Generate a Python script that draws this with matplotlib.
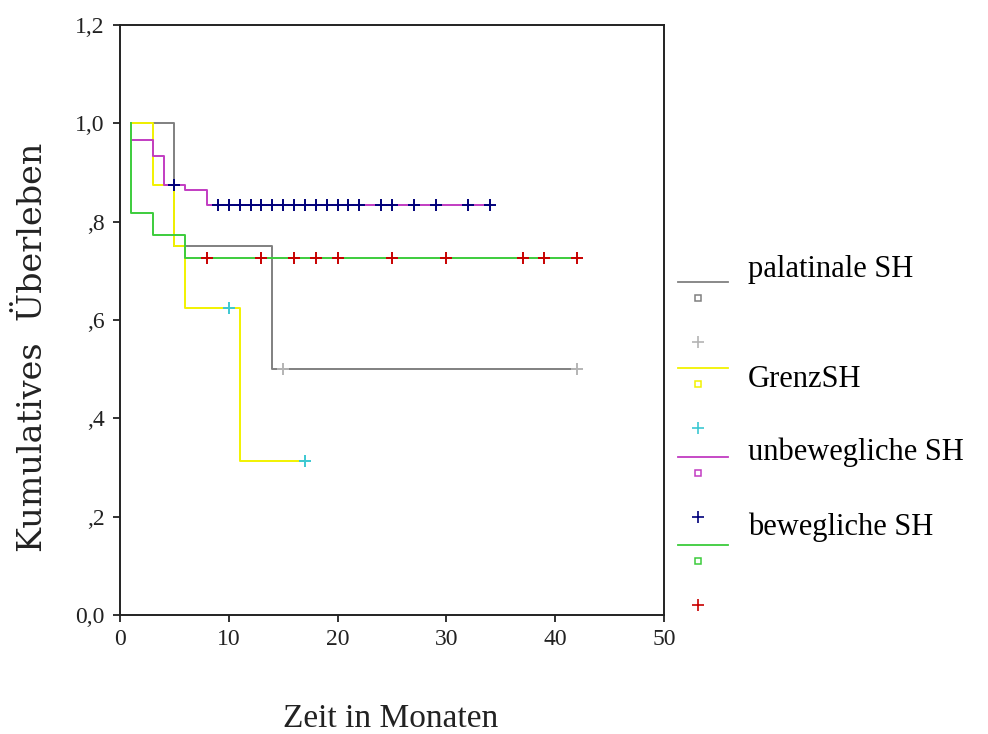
import numpy as np
import matplotlib
matplotlib.use("Agg")
import matplotlib.pyplot as plt

# groups and their Kaplan-Meier step curves (time in months, cumulative survival)
groups = ["palatinale SH", "GrenzSH", "unbewegliche SH", "bewegliche SH"]

pal_t = [1, 5, 14, 42]
pal_s = [1.0, 0.75, 0.5, 0.5]
pal_cens = [15, 42]

grenz_t = [1, 3, 5, 6, 11, 17]
grenz_s = [1.0, 0.875, 0.75, 0.625, 0.3125, 0.3125]
grenz_cens = [10, 17]

unbew_t = [1, 3, 4, 6, 8, 34]
unbew_s = [0.967, 0.933, 0.875, 0.865, 0.833, 0.833]
unbew_cens = [5, 9, 10, 11, 12, 13, 14, 15, 16, 17, 18, 19, 20, 21, 22,
              24, 25, 27, 29, 32, 34]

bew_t = [1, 1, 3, 6, 42]
bew_s = [1.0, 0.818, 0.773, 0.727, 0.727]
bew_cens = [8, 13, 16, 18, 20, 25, 30, 37, 39, 42]

line_cols = ["#808080", "#f2f200", "#c23cc2", "#3ccc3c"]
cens_cols = ["#b4b4b4", "#3cc8d2", "#00007a", "#c80000"]

y_ticks = [0, 0.2, 0.4, 0.6, 0.8, 1.0, 1.2]
y_labels = ["0,0", ",2", ",4", ",6", ",8", "1,0", "1,2"]
x_ticks = [0, 10, 20, 30, 40, 50]


def step_value(t, s, x):
    # survival at time x for a right-continuous step curve
    i = np.searchsorted(t, x, side="right") - 1
    return s[max(i, 0)]


fig = plt.figure(figsize=(9.88, 7.34), dpi=100)
ax = fig.add_axes([120 / 988, 119 / 734, 544 / 988, 590 / 734])

curves = [(pal_t, pal_s, pal_cens), (grenz_t, grenz_s, grenz_cens),
          (unbew_t, unbew_s, unbew_cens), (bew_t, bew_s, bew_cens)]

for (t, s, c), col in zip(curves, line_cols):
    ax.step(t, s, where="post", color=col, lw=1.4, zorder=2)

for (t, s, c), col in zip(curves, cens_cols):
    cy = [step_value(t, s, x) for x in c]
    ax.plot(c, cy, ls="none", marker="+", ms=9, mew=1.4, color=col, zorder=3)

ax.set_xlim(0, 50)
ax.set_ylim(0, 1.2)
ax.set_xticks(x_ticks)
ax.set_yticks(y_ticks)
ax.set_yticklabels(y_labels)
for lab in ax.get_xticklabels() + ax.get_yticklabels():
    lab.set_family("Liberation Serif")
    lab.set_fontsize(17)
    lab.set_color("#222222")
ax.tick_params(direction="out", length=5, width=1.3, color="#222222")
ax.tick_params(axis="x", pad=5)
ax.tick_params(axis="y", pad=6)
for sp in ax.spines.values():
    sp.set_linewidth(1.4)
    sp.set_color("#222222")

fig.text(391 / 988, 1 - 727 / 734, "Zeit in Monaten", ha="center", va="baseline",
         family="Liberation Serif", fontsize=24, color="#222222")
fig.text(42 / 988, 1 - 347 / 734, "Kumulatives  Überleben", ha="center", va="baseline",
         rotation=90, rotation_mode="anchor", family="DejaVu Serif", fontsize=24,
         color="#222222")

# legend drawn on an overlay in pixel coordinates
lg = fig.add_axes([0, 0, 1, 1], facecolor="none")
lg.set_xlim(0, 988)
lg.set_ylim(734, 0)
lg.axis("off")
line_y = [282, 368, 457, 545]
label_base = [277, 387, 460, 535]
for i, name in enumerate(groups):
    y0 = line_y[i]
    lg.plot([678, 728], [y0, y0], color=line_cols[i], lw=1.3)
    lg.plot([698], [y0 + 16], marker="s", ms=5, mfc="none", mew=1.1,
            color=line_cols[i], ls="none")
    lg.plot([698], [y0 + 60], marker="+", ms=8, mew=1.2,
            color=cens_cols[i], ls="none")
    lg.text(748, label_base[i], name, ha="left", va="baseline",
            family="Liberation Serif", fontsize=22, color="black")

fig.savefig("out.png", dpi=100)
